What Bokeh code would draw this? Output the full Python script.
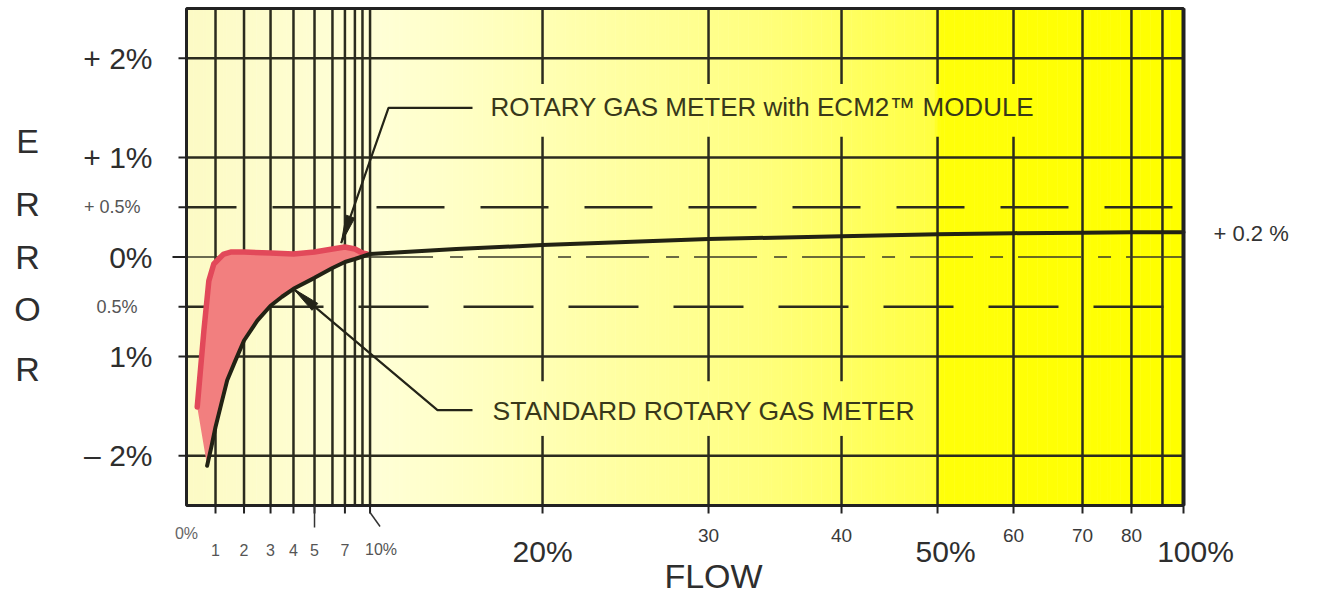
import numpy as np
from bokeh.plotting import figure
from bokeh.models import Label, Range1d
from bokeh.embed import file_html
from bokeh.resources import INLINE

# ---- nonlinear flow scale of the printed chart (flow % -> axis position 0..1000)
FLOW_SCALE = [0, 1, 2, 3, 4, 5, 6, 7, 8, 9, 10, 20, 30, 40, 50, 60, 70, 80, 90, 100]
AXIS_POS = [0, 29.1, 57.7, 84.3, 107.3, 128.4, 146.4, 158.9, 168.9, 176.5, 184.1,
            357.1, 523.6, 657.0, 753.3, 829.5, 898.7, 947.8, 978.9, 1000]

GRID_FLOW = [1, 2, 3, 4, 5, 6, 7, 8, 9, 10, 20, 30, 40, 50, 60, 70, 80, 90]
TICK_FLOW = [1, 2, 3, 4, 5, 7, 10, 20, 30, 40, 50, 60, 70, 80, 100]
ERR_SOLID = [-2, -1, 1, 2]
ERR_TICKS = [-2, -1, -0.5, 0, 0.5, 1, 2]

# ---- series (flow %, error %)
STD_FLOW = [0.71, 0.85, 1.0, 1.2, 1.41, 1.7, 2.0, 2.5, 3, 3.5, 4, 5, 6, 7, 8, 8.8, 9.6,
            10, 15, 20, 30, 40, 50, 60, 70, 80, 90, 100]
STD_ERR = [-2.10, -1.92, -1.71, -1.48, -1.24, -1.04, -0.84, -0.64, -0.49, -0.40, -0.32,
           -0.21, -0.11, -0.05, -0.02, 0.0, 0.02, 0.03, 0.08, 0.12, 0.18, 0.21,
           0.23, 0.24, 0.245, 0.25, 0.25, 0.25]

ECM_FLOW = [0.37, 0.6, 0.77, 0.94, 1.18, 1.29, 1.53, 1.76, 2, 3, 4, 5, 6, 7, 8, 9, 9.6]
ECM_ERR = [-1.51, -0.74, -0.24, -0.07, 0.0, 0.03, 0.05, 0.05, 0.05, 0.04, 0.03,
           0.05, 0.08, 0.10, 0.08, 0.04, 0.03]

# ---- tick labels
X_LABELS = ["0%", "1", "2", "3", "4", "5", "7", "10%", "20%", "30", "40", "50%",
            "60", "70", "80", "100%"]
X_LABEL_FLOW = [0, 1, 2, 3, 4, 5, 7, 10, 20, 30, 40, 50, 60, 70, 80, 100]
Y_LABELS = ["+ 2%", "+ 1%", "+ 0.5%", "0%", "0.5%", "1%", "\u2013 2%"]
Y_LABEL_ERR = [2, 1, 0.5, 0, -0.5, -1, -2]
Y_TITLE = ["E", "R", "R", "O", "R"]
X_TITLE = "FLOW"

LABEL_ECM = "ROTARY GAS METER with ECM2\u2122 MODULE"
LABEL_STD = "STANDARD ROTARY GAS METER"
LABEL_END = "+ 0.2 %"

# ---- geometry: plot area 997 x 497 px, placed at (186, 8) on the canvas
W, H = 1315, 596
FL, FT, FW, FH = 186, 8, 997, 497
PX_X = FW / 1000.0
PX_Y = FH / 5.0
FONT = "Liberation Sans"


def X(f):
    return np.interp(f, FLOW_SCALE, AXIS_POS)


def dx(px):
    return px / PX_X


def dy(px):
    return px / PX_Y


p = figure(width=W, height=H, output_backend="svg", toolbar_location=None,
           x_range=Range1d(-dx(FL), dx(W - FL)),
           y_range=Range1d(-2.5 - dy(H - FT - FH), 2.5 + dy(FT)),
           x_axis_type=None, y_axis_type=None, min_border=0)
p.grid.visible = False
p.outline_line_color = None
p.border_fill_color = "white"
p.background_fill_color = "white"

# ---- background gradient of the plot area (pale cream -> strong yellow)
stops_x = [0, 184, 357, 524, 657, 748, 756, 1000]
stops_c = np.array([[252, 250, 196], [255, 255, 216], [255, 255, 180],
                    [255, 255, 140], [255, 255, 100], [255, 255, 66],
                    [255, 255, 10], [255, 255, 0]], dtype=float)
edges = np.linspace(0, 1000, 301)
centers = (edges[:-1] + edges[1:]) / 2
cols = []
for c in centers:
    rgb = [int(round(np.interp(c, stops_x, stops_c[:, k]))) for k in range(3)]
    cols.append("#%02x%02x%02x" % tuple(rgb))
p.quad(left=edges[:-1], right=np.minimum(edges[1:] + 0.5, 1000), bottom=-2.5, top=2.5,
       fill_color=cols, line_color=None)

GRID_COLOR = "#2b2b1e"

# ---- vertical grid lines (with breaks where the callout texts cross)
top_gap = (1.21, 1.74)
bot_gap = (-1.80, -1.25)
x0s, y0s, x1s, y1s = [], [], [], []
for f in GRID_FLOW:
    gaps = []
    if f in (20, 30, 40, 50, 60):
        gaps.append(top_gap)
    if f in (20, 30, 40):
        gaps.append(bot_gap)
    gaps.sort()
    start = -2.5
    for g0, g1 in gaps:
        x0s.append(X(f)); x1s.append(X(f)); y0s.append(start); y1s.append(g0)
        start = g1
    x0s.append(X(f)); x1s.append(X(f)); y0s.append(start); y1s.append(2.5)
p.segment(x0=x0s, y0=y0s, x1=x1s, y1=y1s, line_color=GRID_COLOR, line_width=2.5)

# ---- horizontal grid lines
p.segment(x0=0, x1=1000, y0=ERR_SOLID, y1=ERR_SOLID, line_color=GRID_COLOR,
          line_width=2.5)
p.segment(x0=0, x1=1000, y0=0.5, y1=0.5, line_color=GRID_COLOR,
          line_width=2.5, line_dash="68 36", line_dash_offset=18)
p.segment(x0=0, x1=1000, y0=-0.5, y1=-0.5, line_color=GRID_COLOR,
          line_width=2.5, line_dash="70 35", line_dash_offset=38)
p.segment(x0=0, x1=X(10), y0=0, y1=0, line_color="#3a3a28", line_width=1.5)
p.segment(x0=X(10), x1=1000, y0=0, y1=0, line_color="#3a3a28", line_width=1.5,
          line_dash="63 17 13 15")

# ---- red band between ECM2 curve and standard curve
ecm_x = X(ECM_FLOW)
std_flow = np.array(STD_FLOW)
std_err = np.array(STD_ERR)
mask = std_flow <= ECM_FLOW[-1]
band_x = list(ecm_x) + list(X(std_flow[mask])[::-1])
band_y = list(ECM_ERR) + list(std_err[mask][::-1])
p.patch(band_x, band_y, fill_color="#f27f7f", line_color=None)
p.line(ecm_x, ECM_ERR, line_color="#e2495a", line_width=5.5, line_cap="round",
       line_join="round")
p.line(X(STD_FLOW), STD_ERR, line_color="#222214", line_width=4,
       line_cap="round", line_join="round")

# ---- frame border and tick marks
BORDER = "#222222"
p.quad(left=0, right=1000, bottom=-2.5, top=2.5, fill_color=None,
       line_color=BORDER, line_width=3)
p.segment(x0=1000, x1=1000, y0=-2.5, y1=2.5, line_color=BORDER, line_width=4)
tx = X(TICK_FLOW)
p.segment(x0=tx, x1=tx, y0=-2.5, y1=-2.5 - dy(8), line_color=BORDER, line_width=2)
p.segment(x0=-dx(8), x1=0, y0=ERR_TICKS, y1=ERR_TICKS, line_color=BORDER, line_width=2)
p.segment(x0=-dx(14), x1=0, y0=0, y1=0, line_color=BORDER, line_width=2)
p.segment(x0=X(5), x1=X(5), y0=-2.5, y1=-2.5 - dy(22), line_color="#333333",
          line_width=1.5)
p.segment(x0=X(10), x1=X(10) + dx(10), y0=-2.5 - dy(7), y1=-2.5 - dy(21),
          line_color="#333333", line_width=1.5)


# ---- callout arrows
def head(tip, tail, length=28, half=4.5):
    tx_, ty_ = tip[0] * PX_X, tip[1] * PX_Y
    sx, sy = tail[0] * PX_X, tail[1] * PX_Y
    d = np.hypot(sx - tx_, sy - ty_)
    ux, uy = (sx - tx_) / d, (sy - ty_) / d
    bx, by = tx_ + ux * length, ty_ + uy * length
    nx, ny = -uy, ux
    pts = [(tx_, ty_), (bx + nx * half, by + ny * half), (bx - nx * half, by - ny * half)]
    return [a / PX_X for a, _ in pts], [b / PX_Y for _, b in pts]


ecm_tip = (X(6.7), 0.14)
ecm_corner = (dx(202), 1.50)
ecm_end = (dx(286), 1.50)
std_tip = (X(4.0), -0.32)
std_corner = (dx(251), -1.54)
std_end = (dx(286), -1.54)
ARROW_C = "#242418"
p.line([ecm_end[0], ecm_corner[0], ecm_tip[0]], [ecm_end[1], ecm_corner[1], ecm_tip[1]],
       line_color=ARROW_C, line_width=2.2)
p.line([std_end[0], std_corner[0], std_tip[0]], [std_end[1], std_corner[1], std_tip[1]],
       line_color=ARROW_C, line_width=2.2)
hx, hy = head(ecm_tip, ecm_corner)
p.patch(hx, hy, fill_color=ARROW_C, line_color=ARROW_C, line_width=1)
hx, hy = head(std_tip, std_corner)
p.patch(hx, hy, fill_color=ARROW_C, line_color=ARROW_C, line_width=1)

INNER_TEXT = "#38381a"
p.add_layout(Label(x=dx(304), y=1.51, text=LABEL_ECM, text_font=FONT,
                   text_font_size="26px", text_color=INNER_TEXT,
                   text_baseline="middle", text_align="left"))
p.add_layout(Label(x=dx(306), y=-1.55, text=LABEL_STD, text_font=FONT,
                   text_font_size="26.5px", text_color=INNER_TEXT,
                   text_baseline="middle", text_align="left"))
p.add_layout(Label(x=1000 + dx(30), y=0.24, text=LABEL_END, text_font=FONT,
                   text_font_size="22px", text_color="#333333",
                   text_baseline="middle", text_align="left"))

# ---- x tick labels
for lab, f in zip(X_LABELS, X_LABEL_FLOW):
    if lab in ("20%", "50%", "100%"):
        size, off, col = "30px", 46, "#2e2e2e"
    elif lab in ("30", "40", "60", "70", "80"):
        size, off, col = "19px", 30, "#3a3a3a"
    elif lab == "0%":
        size, off, col = "16px", 28, "#666666"
    else:
        size, off, col = "16px", 44, "#555555"
    xo = {"10%": 11, "50%": 8, "100%": 12}.get(lab, 0)
    p.add_layout(Label(x=X(f) + dx(xo), y=-2.5 - dy(off), text=lab, text_font=FONT,
                       text_font_size=size, text_color=col, text_align="center",
                       text_baseline="middle"))

p.add_layout(Label(x=X(30) + dx(5), y=-2.5 - dy(70), text=X_TITLE, text_font=FONT,
                   text_font_size="34px", text_color="#2e2e2e", text_align="center",
                   text_baseline="middle"))

# ---- y tick labels
for lab, e in zip(Y_LABELS, Y_LABEL_ERR):
    if lab in ("+ 0.5%", "0.5%"):
        size, right, col = "18px", (46 if lab.startswith("+") else 49), "#555555"
    else:
        size, right, col = "30px", 34, "#2e2e2e"
    p.add_layout(Label(x=-dx(right), y=e, text=lab, text_font=FONT,
                       text_font_size=size, text_color=col, text_align="right",
                       text_baseline="middle"))

# ---- vertical axis title, letter by letter
for ch, yy in zip(Y_TITLE, [1.17, 0.53, 0.0, -0.52, -1.13]):
    p.add_layout(Label(x=-dx(159), y=yy, text=ch, text_font=FONT,
                       text_font_size="34px", text_color="#2e2e2e",
                       text_align="center", text_baseline="middle"))

open("out.html", "w").write(file_html(p, INLINE))
